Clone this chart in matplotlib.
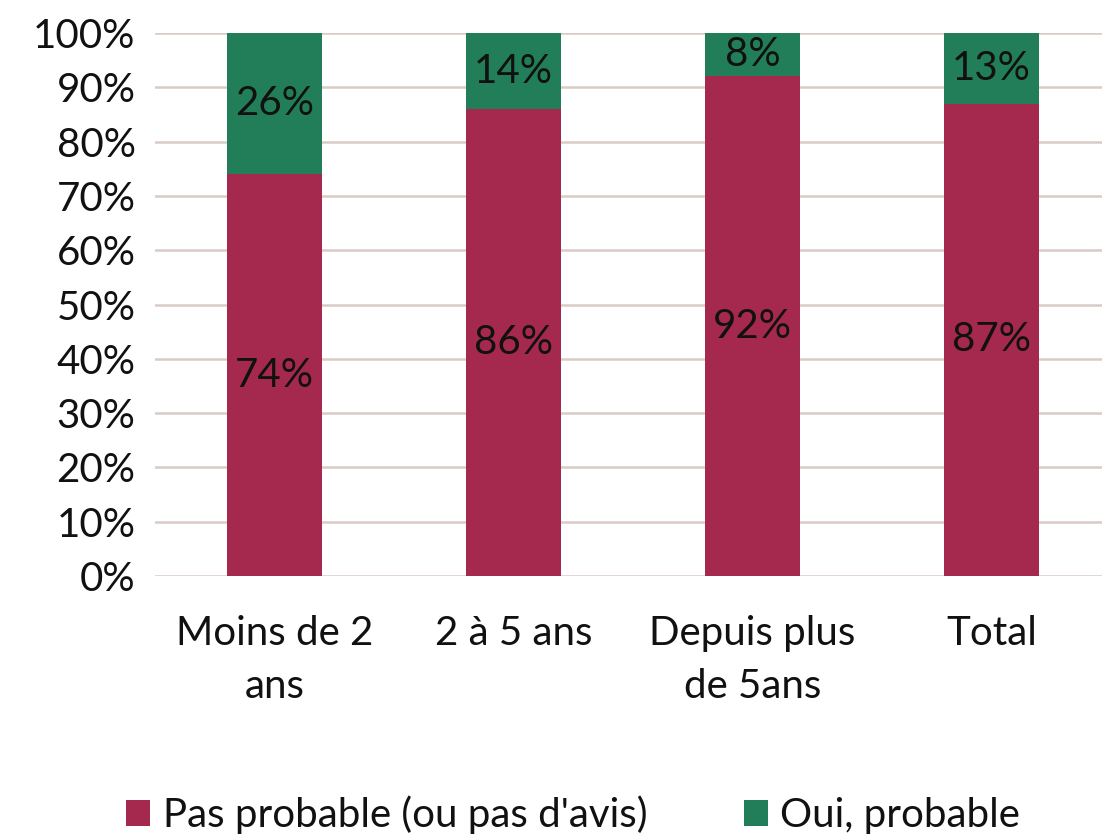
import matplotlib
matplotlib.use("Agg")
import matplotlib.pyplot as plt
from matplotlib.patches import Patch

categories = ["Moins de 2\nans", "2 à 5 ans", "Depuis plus\nde 5ans", "Total"]
pas_probable = [74, 86, 92, 87]
oui_probable = [26, 14, 8, 13]
series_names = ["Pas probable (ou pas d'avis)", "Oui, probable"]
colors = ["#A5294E", "#217E58"]

plt.rcParams['font.family'] = ['Lato', 'DejaVu Sans']
FS = 29

fig = plt.figure(figsize=(11.02, 8.35), dpi=100)
# plot area: x 155..1111 px, y 33..576 px
ax = fig.add_axes([155/1102, 1 - 576/835, (1111-155)/1102, (576-33)/835])

x = list(range(len(categories)))
w = 0.4
ax.bar(x, pas_probable, w, color=colors[0], zorder=3)
ax.bar(x, oui_probable, w, bottom=pas_probable, color=colors[1], zorder=3)

for xi, v in zip(x, pas_probable):
    ax.text(xi, v / 2, f"{v}%", ha="center", va="center", fontsize=FS, color="#111111", zorder=4)
for xi, b, v in zip(x, pas_probable, oui_probable):
    ax.text(xi, b + v / 2, f"{v}%", ha="center", va="center", fontsize=FS, color="#111111", zorder=4)

ax.set_xlim(-0.5, 3.5)
ax.set_ylim(0, 100)
ax.set_yticks(range(0, 101, 10))
ax.set_yticklabels([f"{t}%" for t in range(0, 101, 10)], fontsize=FS, color="#111111")
ax.set_xticks(x)
ax.set_xticklabels(categories, fontsize=FS, color="#111111", linespacing=1.55)
ax.tick_params(axis="both", length=0)
ax.tick_params(axis="y", pad=14)
ax.tick_params(axis="x", pad=28)
ax.grid(axis="y", color="#D9CBC6", linewidth=1.8, zorder=0)
for s in ax.spines.values():
    s.set_visible(False)

handles = [Patch(facecolor=c, label=n) for c, n in zip(colors, series_names)]
fig.legend(handles=handles, loc="center", bbox_to_anchor=(0.52, 1 - 815/835), ncol=2,
           frameon=False, fontsize=FS, handlelength=0.6, handleheight=0.6,
           handletextpad=0.3, columnspacing=2.4, labelcolor="#111111")

fig.savefig("out.png", dpi=100)
